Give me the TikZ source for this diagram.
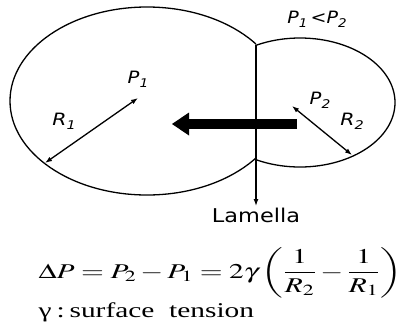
\documentclass[tikz,border=0pt]{standalone}
\usepackage{amsmath}
\usepackage{mathptmx}
\usepackage{graphicx}
\usepackage{fontspec}
\setmainfont{Liberation Serif}
\newfontfamily\labfont{DejaVu Sans}
\usetikzlibrary{arrows.meta}
\newcommand{\lab}[2]{\textit{#1}\raisebox{-0.4ex}{\fontsize{12}{12}\selectfont\textit{#2}}}
\newcommand{\wide}[2]{\scalebox{#1}[1]{#2}}
\tikzset{
    lbl/.style = {font = \labfont\fontsize{17}{17}\selectfont},
    lam/.style = {font = \labfont\fontsize{19}{19}\selectfont, inner sep = 1pt},
    tip/.style = {{Latex[length=7pt,width=5pt]}-{Latex[length=7pt,width=5pt]}},
    eqn/.style = {font = \fontsize{21}{24}\selectfont, anchor = base west, inner sep = 0pt}
}
\begin{document}
\begin{tikzpicture}[x = 1pt, y = -1pt, line width = 1.3pt]
                \useasboundingbox (0, 0) rectangle (407, 322);
                \begin{scope}
                    \clip (0, 0) rectangle (256, 322);
                    \draw (147, 101) ellipse [x radius = 137pt, y radius = 94pt];
                \end{scope}
                \begin{scope}
                    \clip (256, 0) rectangle (407, 322);
                    \draw (300, 102.5) ellipse [x radius = 95pt, y radius = 64.5pt];
                \end{scope}

                \coordinate (top) at (256, 45);
                \coordinate (R1a) at (45, 163);
                \coordinate (R1b) at (138, 98);
                \coordinate (R2a) at (292, 106);
                \coordinate (R2b) at (352, 155);
                \coordinate (pushA) at (297, 124);
                \coordinate (pushB) at (172, 124);

                \node[lam, anchor = north] (L) at (256, 206) {\wide{1.18}{Lamella}};
                \node[lbl] (P1) at (138, 79) {\wide{1.15}{\lab{P}{1}}};
                \node[lbl] (R1) at (64, 121) {\wide{1.2}{\lab{R}{1}}};
                \node[lbl] (P2) at (320, 100) {\wide{1.15}{\lab{P}{2}}};
                \node[lbl] (R2) at (352, 121) {\wide{1.2}{\lab{R}{2}}};
                \node[lbl] (cmp) at (317, 19) {\wide{1.12}{\lab{P}{1}\,<\lab{P}{2}}};

                \draw[-{Latex[length=7pt,width=5pt]}] (top) to (L);
                \draw[tip] (R1a) to (R1b);
                \draw[tip] (R2a) to (R2b);
                \draw[line width = 10pt, -{Triangle[length=17pt,width=23pt,line width=0pt]}] (pushA) to (pushB);

                \node[eqn] (eq) at (38, 278) {\wide{1.4}{$\Delta P = P_2 - P_1 = 2\gamma\left(\dfrac{1}{R_2} - \dfrac{1}{R_1}\right)$}};
                \node[eqn] (gam) at (38, 317) {\wide{1.4}{γ\,:\,surface\ \ tension}};
            \end{tikzpicture}
\end{document}
